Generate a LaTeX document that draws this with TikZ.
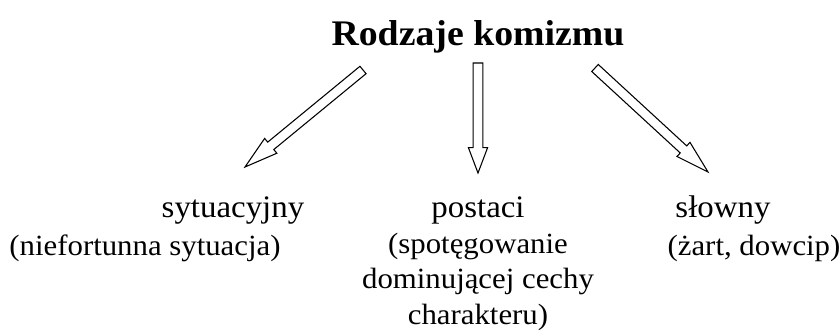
\documentclass[tikz,border=0pt]{standalone}
\usepackage{fontspec}
\setmainfont{Liberation Serif}
\usetikzlibrary{calc}

\tikzset{
    blockarr/.style={draw, thick, fill=white, line join=miter},
    kind/.style={anchor=base, inner sep=0pt, xscale=1.05, transform shape,
        font=\fontsize{23.5}{28}\selectfont},
    note/.style={anchor=base, inner sep=0pt, xscale=1.05, transform shape, align=center,
        font=\fontsize{22}{24.5}\selectfont},
}

% #1 head length, #2 tail, #3 tip
\newcommand{\blockarrow}[3][19pt]{%
    \coordinate (h) at ($(#3)!#1!(#2)$);
    \draw[blockarr] ($(#2)!3.6pt!90:(#3)$) -- ($(h)!3.6pt!90:(#3)$)
        -- ($(h)!7.2pt!90:(#3)$) -- (#3) -- ($(h)!7.2pt!-90:(#3)$)
        -- ($(h)!3.6pt!-90:(#3)$) -- ($(#2)!3.6pt!-90:(#3)$) -- cycle;
}

\begin{document}
\begin{tikzpicture}[x=0.75pt, y=-0.75pt]
    \useasboundingbox (0, 0) rectangle (839, 331);

    \node[anchor=base, inner sep=0pt, xscale=1.05, transform shape,
        font=\fontsize{27}{32}\selectfont\bfseries] at (478, 46) (title) {Rodzaje komizmu};

    \node[kind] at (233, 218) (sit) {sytuacyjny};
    \node[kind] at (478, 218) (post) {postaci};
    \node[kind] at (723, 218) (slow) {słowny};

    \node[note] at (145, 256) (sitn) {(niefortunna sytuacja)};
    \node[note, anchor=north] at (478, 233) (postn) {(spotęgowanie\\[2pt]dominującej cechy\\[2pt]charakteru)};
    \node[note] at (754, 256) (slown) {(żart, dowcip)};

    \coordinate (t1) at (363, 70);
    \coordinate (e1) at (245, 167);
    \coordinate (t2) at (478, 63);
    \coordinate (e2) at (478, 173);
    \coordinate (t3) at (595, 68);
    \coordinate (e3) at (708, 172);

    \blockarrow[25pt]{t1}{e1}
    \blockarrow{t2}{e2}
    \blockarrow[25pt]{t3}{e3}
\end{tikzpicture}
\end{document}
